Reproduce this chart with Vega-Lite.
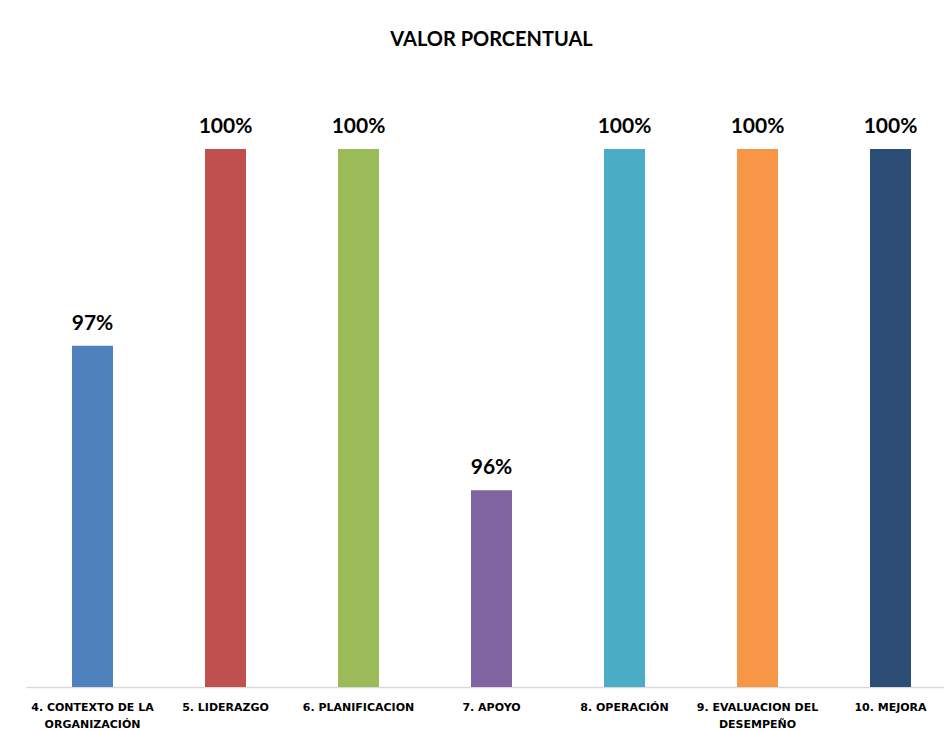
{
  "$schema": "https://vega.github.io/schema/vega-lite/v6.json",
  "autosize": "none",
  "width": 931,
  "height": 538,
  "padding": {"left": 26, "top": 149, "right": 0, "bottom": 44},
  "background": "white",
  "title": {
    "text": "VALOR PORCENTUAL",
    "font": "Lato",
    "fontSize": 20,
    "fontWeight": "bold",
    "color": "#000000",
    "anchor": "middle",
    "offset": 66
  },
  "config": {"view": {"stroke": null}},
  "data": {
    "values": [
      {"clausula": "4. CONTEXTO DE LA ORGANIZACIÓN", "valor": 0.9744},
      {"clausula": "5. LIDERAZGO", "valor": 1.0},
      {"clausula": "6. PLANIFICACION", "valor": 1.0},
      {"clausula": "7. APOYO", "valor": 0.9556},
      {"clausula": "8. OPERACIÓN", "valor": 1.0},
      {"clausula": "9. EVALUACION DEL DESEMPEÑO", "valor": 1.0},
      {"clausula": "10. MEJORA", "valor": 1.0}
    ]
  },
  "encoding": {
    "x": {
      "field": "clausula",
      "type": "nominal",
      "sort": null,
      "scale": {"paddingInner": 0, "paddingOuter": 0},
      "axis": {
        "title": null,
        "labelAngle": 0,
        "labelFont": "DejaVu Sans",
        "labelFontSize": 11,
        "labelFontWeight": "bold",
        "labelColor": "#000000",
        "labelPadding": 14,
        "labelLineHeight": 17,
        "labelLimit": 200,
        "ticks": false,
        "domainColor": "#d9d9d9",
        "domainWidth": 1.5,
        "labelExpr": "datum.value == '4. CONTEXTO DE LA ORGANIZACIÓN' ? ['4. CONTEXTO DE LA', 'ORGANIZACIÓN'] : datum.value == '9. EVALUACION DEL DESEMPEÑO' ? ['9. EVALUACION DEL', 'DESEMPEÑO'] : datum.value"
      }
    },
    "y": {
      "field": "valor",
      "type": "quantitative",
      "scale": {"domain": [0.93, 1.0], "zero": false, "nice": false, "clamp": true},
      "axis": null
    }
  },
  "layer": [
    {
      "mark": {"type": "bar", "size": 41, "clip": true},
      "encoding": {
        "color": {
          "field": "clausula",
          "type": "nominal",
          "sort": null,
          "scale": {
            "domain": ["4. CONTEXTO DE LA ORGANIZACIÓN", "5. LIDERAZGO", "6. PLANIFICACION", "7. APOYO", "8. OPERACIÓN", "9. EVALUACION DEL DESEMPEÑO", "10. MEJORA"],
            "range": ["#4F81BD", "#C0504D", "#9BBB59", "#8064A2", "#4BACC6", "#F79646", "#2C4D75"]
          },
          "legend": null
        }
      }
    },
    {
      "mark": {"type": "text", "dy": -22, "font": "Lato", "fontSize": 21, "fontWeight": "bold", "color": "#000000"},
      "encoding": {
        "text": {"field": "valor", "type": "quantitative", "format": ".0%"}
      }
    }
  ]
}
